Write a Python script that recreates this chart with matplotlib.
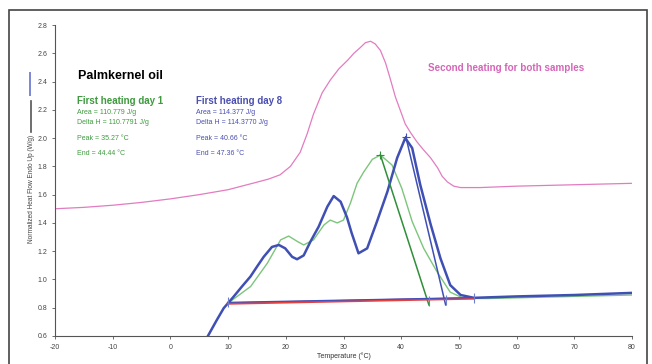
import matplotlib.pyplot as plt
from matplotlib.lines import Line2D
from matplotlib.patches import Rectangle

plt.rcParams['font.family'] = ['Liberation Sans', 'DejaVu Sans']
plt.rcParams['axes.unicode_minus'] = False

# second heating (pink)
pink_t = [-20, -15, -10, -5, 0, 5, 10, 14.7, 17, 19, 20.8, 22.5, 23.7, 24.8, 26.3, 27.7, 29.2,
          30.7, 31.8, 32.9, 33.8, 34.7, 35.5, 36.4, 37.3, 38.1, 39.0, 39.9, 40.7, 41.6, 42.7,
          43.8, 45.1, 46.3, 47.1, 48, 49.1, 50.3, 53.7, 60, 70, 80]
pink_y = [1.50, 1.51, 1.525, 1.545, 1.57, 1.60, 1.635, 1.685, 1.71, 1.74, 1.80, 1.90, 2.03, 2.17,
          2.32, 2.41, 2.49, 2.55, 2.60, 2.64, 2.675, 2.685, 2.666, 2.62, 2.53, 2.42, 2.29, 2.19,
          2.10, 2.04, 1.975, 1.92, 1.86, 1.79, 1.73, 1.69, 1.66, 1.65, 1.65, 1.66, 1.67, 1.68]

# first heating day 8 (blue)
blue_t = [6.5, 8, 9.24, 10.97, 12.4, 13.86, 15, 16.17, 17.6, 18.8, 19.9, 21.1, 21.95, 23.1,
          24.3, 25.7, 27.2, 28.3, 29.5, 30.6, 31.4, 32.6, 34.1, 35.8, 37.6, 39.3, 40.7, 41.9,
          43.3, 45.1, 46.8, 48.5, 50.3, 52.6, 60, 70, 80]
blue_y = [0.60, 0.71, 0.797, 0.879, 0.95, 1.02, 1.09, 1.16, 1.23, 1.244, 1.22, 1.16, 1.143, 1.17,
          1.27, 1.374, 1.515, 1.59, 1.55, 1.44, 1.33, 1.185, 1.22, 1.41, 1.62, 1.86, 2.00, 1.93,
          1.67, 1.39, 1.15, 0.96, 0.89, 0.87, 0.88, 0.89, 0.905]

# first heating day 1 (green)
green_t = [10, 10.4, 13.9, 16.8, 19.1, 20.5, 21.95, 23.1, 24.8, 26.6, 27.7, 28.9, 30.0, 31.2,
           32.35, 33.5, 35, 36.4, 38.4, 40.1, 41.9, 43.9, 46.2, 48.5, 50.8, 55, 60, 70, 80]
green_y = [0.84, 0.845, 0.95, 1.115, 1.28, 1.307, 1.27, 1.244, 1.28, 1.385, 1.42, 1.40, 1.42, 1.54,
           1.68, 1.76, 1.85, 1.88, 1.81, 1.645, 1.41, 1.22, 1.055, 0.91, 0.867, 0.865, 0.87, 0.88, 0.89]

# onset / end tangents and baselines
green_tan_t = [36.4, 44.8]
green_tan_y = [1.88, 0.82]
blue_tan_t = [40.8, 47.7]
blue_tan_y = [2.01, 0.82]
red_base_t = [10, 52.6]
red_base_y = [0.83, 0.866]
blue_base_t = [10, 52.6]
blue_base_y = [0.838, 0.872]
tick_t = [10, 44.8, 47.7, 52.6]
tick_y = [0.84, 0.85, 0.855, 0.87]
peak_t = [36.4, 40.8]
peak_y = [1.88, 2.01]

x_ticks = list(range(-20, 81, 10))
y_ticks = [0.6, 0.8, 1.0, 1.2, 1.4, 1.6, 1.8, 2.0, 2.2, 2.4, 2.6, 2.8]

fig = plt.figure(figsize=(6.52, 3.64), dpi=100)
ax = fig.add_axes([55 / 652, 28 / 364, 577 / 652, 311 / 364])

ax.plot(pink_t, pink_y, color='#e27cc0', lw=0.9)
ax.plot(green_t, green_y, color='#7cc57c', lw=1.0)
ax.plot(blue_t, blue_y, color='#3f4fb3', lw=1.8)
ax.plot(green_tan_t, green_tan_y, color='#2f8f3a', lw=1.1)
ax.plot(blue_tan_t, blue_tan_y, color='#3f4fb3', lw=1.1)
ax.plot(red_base_t, red_base_y, color='#e8413c', lw=1.8)
ax.plot(blue_base_t, blue_base_y, color='#4050c0', lw=0.9)
ax.plot(tick_t, tick_y, ls='none', marker='|', ms=7, color='#7080c8', mew=0.8)
ax.plot([peak_t[0]], [peak_y[0]], ls='none', marker='+', ms=6, color='#2f8f3a', mew=0.8)
ax.plot([peak_t[1]], [peak_y[1]], ls='none', marker='+', ms=6, color='#3f4fb3', mew=0.8)

ax.set_xlim(-20, 80)
ax.set_ylim(0.6, 2.8)
ax.set_xticks(x_ticks)
ax.set_yticks(y_ticks)
ax.set_yticklabels([f'{v:.1f}' for v in y_ticks])
ax.tick_params(labelsize=5, length=2, width=0.6, color='#555555', labelcolor='#444444')
for s in ['top', 'right']:
    ax.spines[s].set_visible(False)
for s in ['left', 'bottom']:
    ax.spines[s].set_color('#555555')
    ax.spines[s].set_linewidth(0.8)
ax.set_xlabel('Temperature (°C)', fontsize=5, labelpad=1, color='#333333')
ax.set_ylabel('Normalized Heat Flow Endo Up (W/g)', fontsize=4.7, color='#444444')
ax.yaxis.set_label_coords(-0.034, 0.474)

# texts (figure pixel coords, top origin)
def ftext(x, y, s, **kw):
    fig.text(x / 652, 1 - y / 364, s, va='center', ha='left', **kw)

ftext(78, 76, 'Palmkernel oil', fontsize=9, fontweight='bold', color='black')
g = '#3f9a3f'
b = '#4a4fb0'
ftext(77, 101, 'First heating day 1', fontsize=7, fontweight='bold', color=g)
ftext(77, 113, 'Area = 110.779 J/g', fontsize=5, color=g)
ftext(77, 123, 'Delta H = 110.7791 J/g', fontsize=5, color=g)
ftext(77, 138, 'Peak = 35.27 °C', fontsize=5, color=g)
ftext(77, 153, 'End = 44.44 °C', fontsize=5, color=g)
ftext(196, 101, 'First heating day 8', fontsize=7, fontweight='bold', color=b)
ftext(196, 113, 'Area = 114.377 J/g', fontsize=5, color=b)
ftext(196, 123, 'Delta H = 114.3770 J/g', fontsize=5, color=b)
ftext(196, 138, 'Peak = 40.66 °C', fontsize=5, color=b)
ftext(196, 153, 'End = 47.36 °C', fontsize=5, color=b)
ftext(428, 68, 'Second heating for both samples', fontsize=7.1, fontweight='bold', color='#d566b8')

# legend fragments at left
fig.add_artist(Line2D([30 / 652, 30 / 652], [1 - 73 / 364, 1 - 95 / 364], color='#7d86d8', lw=1.4))
fig.add_artist(Line2D([31 / 652, 31 / 652], [1 - 101 / 364, 1 - 132 / 364], color='#555555', lw=1.2))

# outer frame
fig.add_artist(Rectangle((9 / 652, -0.05), 638 / 652, 1.05 - 10 / 364, fill=False,
                         edgecolor='#444444', lw=1.2, transform=fig.transFigure))

fig.savefig('out.png', dpi=100)
